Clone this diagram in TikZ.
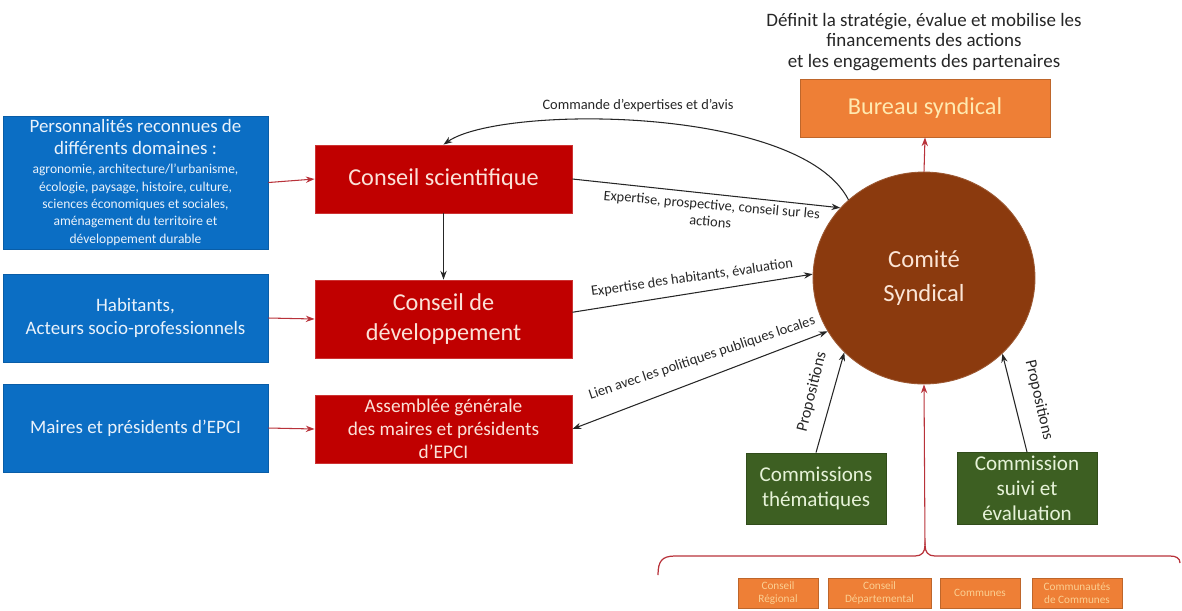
\documentclass[tikz,border=0pt]{standalone}
\usepackage{fontspec}
\setmainfont{Carlito}
\usetikzlibrary{arrows.meta,calc,shapes.geometric}
\definecolor{cblue}{HTML}{0B6EC4}
\definecolor{cbluetext}{HTML}{EAF2FB}
\definecolor{cred}{HTML}{C00000}
\definecolor{credtext}{HTML}{FBE1D8}
\definecolor{corange}{HTML}{EE7F36}
\definecolor{corangetext}{HTML}{FFE9B0}
\definecolor{cgreen}{HTML}{3D5F22}
\definecolor{cgreentext}{HTML}{E6F2D8}
\definecolor{cbrown}{HTML}{8B3A0E}
\definecolor{cbrowntext}{HTML}{FBE5D6}
\definecolor{clink}{HTML}{B8323A}
\definecolor{ctext}{HTML}{262626}
\frenchspacing
\begin{document}
\begin{tikzpicture}[x=0.02cm,y=-0.02cm,
  bluebox/.style={draw=cblue!85!black, line width=0.5pt, fill=cblue, text=cbluetext, align=center, inner sep=2pt, minimum width=5.3cm},
  redbox/.style={draw=cred!80!white, line width=0.5pt, fill=cred, text=credtext, align=center, inner sep=2pt, minimum width=5.14cm},
  orangebox/.style={draw=corange!80!black, line width=0.5pt, fill=corange, text=corangetext, align=center, inner sep=1pt},
  greenbox/.style={draw=cgreen!80!black, line width=0.5pt, fill=cgreen, text=cgreentext, align=center, inner sep=2pt, minimum width=2.8cm, minimum height=1.42cm, font=\fontsize{12}{14.3}\selectfont},
  smallbox/.style={draw=corange!80!black, line width=0.4pt, fill=corange, text=corangetext!75!corange, align=center, inner sep=0.5pt, minimum height=0.6cm, font=\fontsize{6.4}{7.4}\selectfont},
  bigfont/.style={font=\fontsize{13.8}{17.5}\selectfont},
  lbl/.style={text=ctext, font=\fontsize{8.2}{9.6}\selectfont, inner sep=1pt, align=center},
  proplbl/.style={text=ctext, font=\fontsize{9.2}{10}\selectfont, inner sep=1pt},
  blackarrow/.style={draw=black!85, line width=0.6pt, -{Stealth[length=5pt,width=3.6pt]}},
  redarrow/.style={draw=clink, line width=0.6pt, -{Stealth[length=5pt,width=3.6pt]}},
  bracketline/.style={draw=clink, line width=0.7pt}
]
\useasboundingbox (0,0) rectangle (1182,610);

% left column
\node[bluebox, minimum height=2.66cm, font=\fontsize{7.7}{9.9}\selectfont] (b1) at (135.5,182.5)
  {{\fontsize{10.8}{12.8}\selectfont Personnalités reconnues de}\\[2.5pt]
   {\fontsize{10.8}{12.8}\selectfont différents domaines :}\\[1pt]
   agronomie, architecture/l'urbanisme,\\ écologie, paysage, histoire, culture,\\ sciences économiques et sociales,\\ aménagement du territoire et\\ développement durable};
\node[bluebox, minimum height=1.76cm, font=\fontsize{10.8}{13}\selectfont] (b2) at (135.5,318)
  {Habitants,\\ Acteurs socio-professionnels};
\node[bluebox, minimum height=1.76cm, font=\fontsize{10.8}{13}\selectfont] (b3) at (135.5,428)
  {Maires et présidents d’EPCI};

% red column
\node[redbox, minimum height=1.36cm, bigfont] (r1) at (443.5,179) {Conseil scientifique};
\node[redbox, minimum height=1.56cm, bigfont] (r2) at (443.5,319) {Conseil de\\ développement};
\node[redbox, minimum height=1.36cm, font=\fontsize{11}{13.2}\selectfont] (r3) at (443.5,429)
  {Assemblée générale\\ des maires et présidents\\ d’EPCI};

% right part
\node[text=ctext, align=center, font=\fontsize{10.8}{11.9}\selectfont] (def) at (924,42)
  {Définit la stratégie, évalue et mobilise les\\ financements des actions\\ et les engagements des partenaires};
\node[orangebox, minimum width=5cm, minimum height=1.16cm, bigfont] (bs) at (925,108) {Bureau syndical};
\node[ellipse, fill=cbrown, draw=cbrown!85!white, line width=0.5pt, minimum width=4.44cm, minimum height=4.24cm, inner sep=0pt, text=cbrowntext, align=center, font=\fontsize{14}{19.3}\selectfont] (cs) at (924,278) {Comité\\ Syndical};
\node[greenbox] (g1) at (816,488.5) {Commissions\\ thématiques};
\node[greenbox] (g2) at (1027,488.5) {Commission\\ suivi et\\ évaluation};

% bottom members
\node[smallbox, minimum width=1.6cm] (m1) at (778,593) {Conseil\\ Régional};
\node[smallbox, minimum width=2.06cm] (m2) at (879.5,593) {Conseil\\ Départemental};
\node[smallbox, minimum width=1.6cm] (m3) at (980,593) {Communes};
\node[smallbox, minimum width=1.8cm] (m4) at (1077,593) {Communautés\\ de Communes};

% bracket
\coordinate (bt) at (925,545);
\draw[bracketline] (658,575) .. controls (658,561) and (662,556) .. (675,556) -- (915,556)
  .. controls (922,556) and (925,552) .. (bt)
  .. controls (925,552) and (928,556) .. (935,556) -- (1170,556)
  .. controls (1176,556) and (1180,558) .. (1180,563);

% connectors
\draw[redarrow] (b1.east) -- (r1.west);
\draw[redarrow] (b2.east) -- (r2.west);
\draw[redarrow] (b3.east) -- (r3.west);
\draw[blackarrow] (r1.south) -- (r2.north);
\draw[blackarrow] (cs.134) .. controls (800,105) and (500,105) .. (r1.north);
\draw[blackarrow] (r1.east) -- (cs.140);
\draw[blackarrow] (r2.3) -- (cs.178);
\draw[draw=black!85, line width=0.6pt, {Stealth[length=5pt,width=3.6pt]}-{Stealth[length=5pt,width=3.6pt]}] (r3.east) -- (cs.209);
\draw[blackarrow] (g1.north) -- (cs.223);
\draw[blackarrow] (g2.north) -- (cs.316);
\draw[redarrow] (cs.north) -- (bs.south);
\draw[redarrow] (bt) -- (cs.south);

% labels
\node[lbl] (l1) at (638,106) {Commande d’expertises et d’avis};
\node[lbl, rotate=-5] (l2) at (711,213) {Expertise, prospective, conseil sur les\\ actions};
\node[lbl, rotate=8] (l3) at (692,278) {Expertise des habitants, évaluation};
\node[lbl, rotate=18.5] (l4) at (702,358) {Lien avec les politiques publiques locales};
\node[proplbl, rotate=76] (l5) at (812,392) {Propositions};
\node[proplbl, rotate=-77] (l6) at (1039,400) {Propositions};
\end{tikzpicture}
\end{document}
